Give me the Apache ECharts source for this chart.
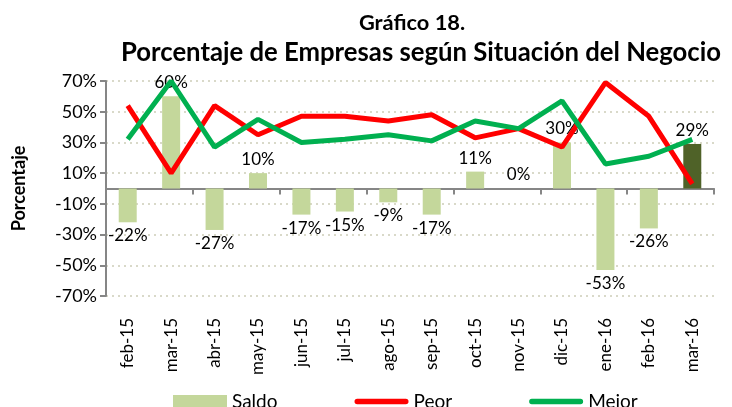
<!DOCTYPE html>
<html>
<head>
<meta charset="utf-8">
<script src="https://cdn.jsdelivr.net/npm/echarts@6/dist/echarts.min.js"></script>
<style>html,body{margin:0;padding:0;background:#fff}#c{width:732px;height:407px}</style>
</head>
<body>
<div id="c"></div>
<script>
var categories = ['feb-15','mar-15','abr-15','may-15','jun-15','jul-15','ago-15','sep-15','oct-15','nov-15','dic-15','ene-16','feb-16','mar-16'];
var saldo = [-22, 60, -27, 10, -17, -15, -9, -17, 11, 0, 30, -53, -26, 29];
var peor  = [54, 10, 54, 35, 47, 47, 44, 48, 33, 39, 27, 69, 47, 3];
var mejor = [32, 70, 27, 45, 30, 32, 35, 31, 44, 39, 57, 16, 21, 32];

var FONT = 'Lato';
var chart = echarts.init(document.getElementById('c'), null, {renderer: 'canvas'});
var lastIdx = saldo.length - 1;
var saldoData = saldo.map(function (v, i) {
  var item = { value: v, label: { position: v < 0 ? 'bottom' : 'top' } };
  if (i === lastIdx) item.itemStyle = { color: '#4F6228' };
  return item;
});
var lineIcon = 'path://M3,0 L57,0 A3,3 0 0 1 57,6 L3,6 A3,3 0 0 1 3,0 Z';

chart.setOption({
  animation: false,
  textStyle: { fontFamily: FONT },
  title: [
    { text: 'Gráfico 18.', left: 412, top: 12, textAlign: 'center', padding: 0,
      textStyle: { fontFamily: FONT, fontWeight: 'bold', fontSize: 21.8, color: '#000' } },
    { text: 'Porcentaje de Empresas según Situación del Negocio', left: 421, top: 40, textAlign: 'center', padding: 0,
      textStyle: { fontFamily: FONT, fontWeight: 'bold', fontSize: 25.7, color: '#000' } }
  ],
  legend: {
    top: 392, left: 173, padding: 0, itemGap: 77, itemWidth: 54, itemHeight: 13,
    textStyle: { fontFamily: FONT, fontSize: 19, color: '#000' },
    data: [
      { name: 'Saldo', icon: 'rect' },
      { name: 'Peor', icon: lineIcon },
      { name: 'Mejor', icon: lineIcon }
    ]
  },
  grid: { left: 106, right: 18, top: 81, bottom: 111, containLabel: false },
  xAxis: [
    { type: 'category', data: categories, position: 'bottom',
      axisLine: { onZero: true, lineStyle: { color: '#868686', width: 2 } },
      axisTick: { show: true, length: 6, lineStyle: { color: '#868686', width: 2 } },
      axisLabel: { show: false }, splitLine: { show: false } },
    { type: 'category', data: categories, position: 'bottom',
      axisLine: { show: false, onZero: false }, axisTick: { show: false },
      axisLabel: { show: true, rotate: 90, margin: 22, fontFamily: FONT, fontSize: 17, color: '#000' } }
  ],
  yAxis: {
    type: 'value', min: -70, max: 70, interval: 20,
    name: 'Porcentaje', nameLocation: 'middle', nameGap: 78, nameRotate: 90,
    nameTextStyle: { fontFamily: FONT, fontWeight: 'bold', fontSize: 18, color: '#000' },
    axisLine: { show: true, lineStyle: { color: '#868686', width: 2 } },
    axisTick: { show: true, length: 6, lineStyle: { color: '#868686', width: 2 } },
    axisLabel: { fontFamily: FONT, fontSize: 18, color: '#000', margin: 9,
      formatter: function (v) { return v + '%'; } },
    splitLine: { show: true, lineStyle: { color: '#D9D9C9', type: [2, 4], width: 2 } }
  },
  series: [
    { name: 'Saldo', type: 'bar', data: saldoData, barWidth: 18, xAxisIndex: 0,
      itemStyle: { color: '#C4D79B' },
      label: { show: true, fontFamily: FONT, fontSize: 17, color: '#000', distance: 5,
        formatter: function (p) { return p.value + '%'; } },
      z: 2 },
    { name: 'Peor', type: 'line', data: peor, symbol: 'none', showSymbol: false, xAxisIndex: 0,
      lineStyle: { color: '#FF0000', width: 5 }, itemStyle: { color: '#FF0000' }, z: 3 },
    { name: 'Mejor', type: 'line', data: mejor, symbol: 'none', showSymbol: false, xAxisIndex: 0,
      lineStyle: { color: '#00B050', width: 5 }, itemStyle: { color: '#00B050' }, z: 4 }
  ]
});
</script>
</body>
</html>
